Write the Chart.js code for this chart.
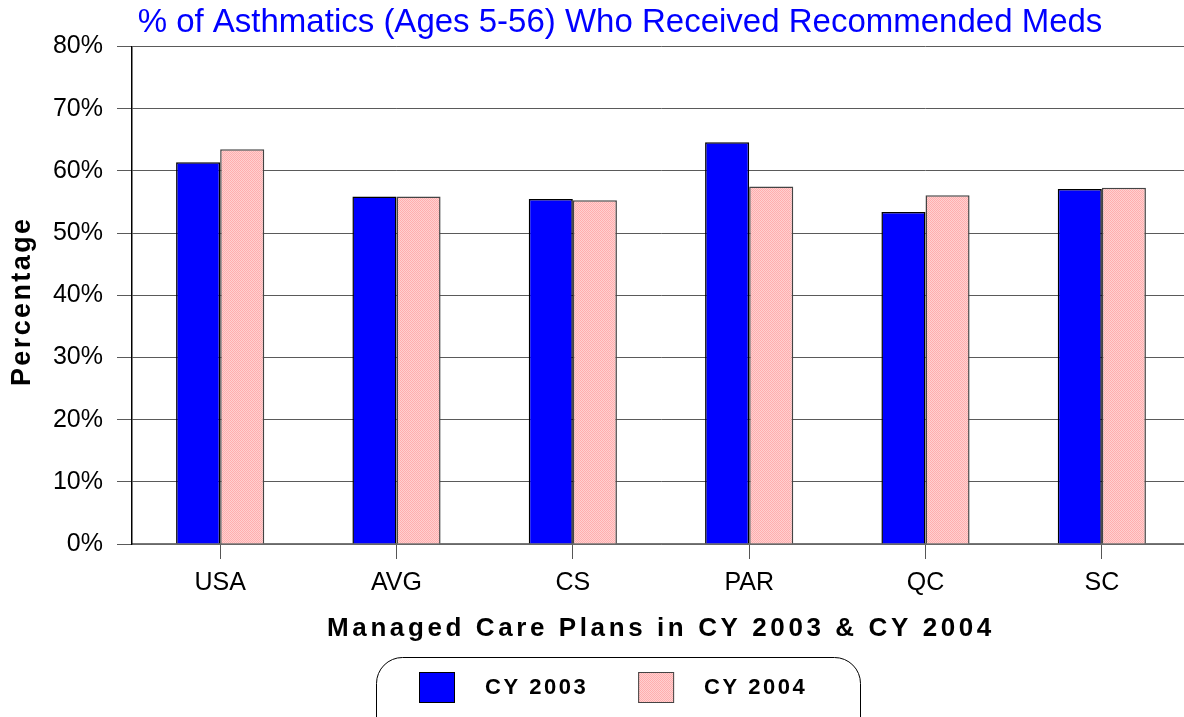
<!DOCTYPE html>
<html>
<head>
<meta charset="utf-8">
<script src="https://cdn.jsdelivr.net/npm/chart.js@4/dist/chart.umd.min.js"></script>
<style>
html, body { margin: 0; padding: 0; background: #fff; overflow: hidden; }
#wrap { width: 1240px; height: 717px; }
</style>
</head>
<body>
<div id="wrap"><canvas id="myChart" width="1240" height="717"></canvas></div>
<script>
const FONT = "'Liberation Sans', Arial, sans-serif";

const categories = ['USA', 'AVG', 'CS', 'PAR', 'QC', 'SC'];
const cy2003 = [61.4, 55.9, 55.5, 64.6, 53.4, 57.1];
const cy2004 = [63.5, 55.9, 55.3, 57.5, 56.1, 57.3];
const yTickValues = [0, 10, 20, 30, 40, 50, 60, 70, 80];
const seriesLabels = ['CY 2003', 'CY 2004'];
const titleText = '% of Asthmatics (Ages 5-56) Who Received Recommended Meds';
const xTitle = 'Managed Care Plans in CY 2003 & CY 2004';
const yTitle = 'Percentage';

// dithered pink fill like the original
function pinkPattern() {
    const c = document.createElement('canvas');
    c.width = 2; c.height = 2;
    const p = c.getContext('2d');
    p.fillStyle = '#ffd0d0';
    p.fillRect(0, 0, 2, 2);
    p.fillStyle = '#ffaeae';
    p.fillRect(0, 0, 1, 1);
    p.fillRect(1, 1, 1, 1);
    return p.createPattern(c, 'repeat');
}

// letter spacing for the axis titles, and centre the chart title on the canvas
const spacingPlugin = {
    id: 'spacing',
    afterLayout(chart) {
        [['x', '3.6px', 0], ['y', '2.4px', 6]].forEach(([id, sp, dy]) => {
            const s = chart.scales[id];
            if (s._spaced) return;
            const orig = s.drawTitle;
            s.drawTitle = function () {
                this.ctx.save();
                this.ctx.letterSpacing = sp;
                this.ctx.translate(0, dy);
                orig.apply(this, arguments);
                this.ctx.restore();
            };
            s._spaced = true;
        });
        const tb = chart.titleBlock;
        if (tb && !tb._shifted) {
            const origDraw = tb.draw;
            tb.draw = function () {
                const dx = chart.width / 2 - (this.left + this.right) / 2;
                this.ctx.save();
                this.ctx.translate(dx, 0);
                origDraw.apply(this, arguments);
                this.ctx.restore();
            };
            tb._shifted = true;
        }
    }
};

// rounded legend box under the axis title
const legendBoxPlugin = {
    id: 'legendBox',
    afterDraw(chart) {
        const ctx = chart.ctx;
        const cx = chart.width / 2;
        const top = chart.scales.x.bottom + 13;
        ctx.save();
        ctx.strokeStyle = '#000';
        ctx.lineWidth = 1;
        ctx.beginPath();
        ctx.roundRect(cx - 243.5, top + 0.5, 484, 90, 26);
        ctx.stroke();

        ctx.font = 'bold 22px ' + FONT;
        ctx.letterSpacing = '2.5px';
        ctx.textBaseline = 'middle';
        const items = chart.data.datasets.map(ds => ({
            label: ds.label,
            fill: ds.backgroundColor,
            stroke: ds.borderColor,
            w: ctx.measureText(ds.label).width
        }));
        const total = items.reduce((a, it) => a + 36 + 30 + it.w, 0) + 50 * (items.length - 1);
        let x = Math.round(cx - total / 2 - 7);
        const midY = top + 30.5;
        items.forEach(it => {
            ctx.fillStyle = it.fill;
            ctx.fillRect(x, midY - 15.5, 36, 31);
            ctx.strokeStyle = it.stroke;
            ctx.lineWidth = 1;
            ctx.strokeRect(x + 0.5, midY - 15, 35, 30);
            ctx.fillStyle = '#000';
            ctx.fillText(it.label, x + 36 + 30, midY);
            x += 36 + 30 + it.w + 50;
        });
        ctx.restore();
    }
};

const ctx = document.getElementById('myChart').getContext('2d');
const myChart = new Chart(ctx, {
    type: 'bar',
    data: {
        labels: categories,
        datasets: [{
            label: seriesLabels[0],
            data: cy2003,
            backgroundColor: '#0000ff',
            borderColor: '#000000',
            borderWidth: 1.5
        }, {
            label: seriesLabels[1],
            data: cy2004,
            backgroundColor: pinkPattern(),
            borderColor: '#444444',
            borderWidth: 1.5
        }]
    },
    options: {
        responsive: false,
        animation: false,
        devicePixelRatio: 1,
        categoryPercentage: 0.5,
        barPercentage: 1,
        layout: { padding: { left: 0, right: 50, top: 0, bottom: 73 } },
        plugins: {
            legend: { display: false },
            tooltip: { enabled: false },
            title: {
                display: true,
                text: titleText,
                color: '#0000ff',
                font: { family: FONT, size: 33, weight: 'normal' },
                padding: { top: 3, bottom: 4 }
            }
        },
        scales: {
            x: {
                grid: { drawOnChartArea: false, drawTicks: true, tickLength: 15, offset: false, color: '#555' },
                border: { color: '#777', width: 1.5 },
                ticks: { color: '#000', font: { family: FONT, size: 25 }, padding: 9 },
                title: {
                    display: true,
                    text: xTitle,
                    color: '#000',
                    font: { family: FONT, size: 26, weight: 'bold' },
                    padding: { top: 0, bottom: 0 }
                },
                afterFit(s) { s.height = 100; }
            },
            y: {
                min: 0,
                max: 80,
                afterBuildTicks(s) { s.ticks = yTickValues.map(v => ({ value: v })); },
                ticks: { callback: v => v + '%', color: '#000', font: { family: FONT, size: 25 }, padding: 14 },
                grid: { color: '#5a5a5a', tickLength: 15, lineWidth: 1 },
                border: { color: '#000', width: 1.5 },
                title: {
                    display: true,
                    text: yTitle,
                    color: '#000',
                    font: { family: FONT, size: 27, weight: 'bold' },
                    padding: { top: 6, bottom: 0 }
                },
                afterFit(s) { s.width = 132; }
            }
        }
    },
    plugins: [spacingPlugin, legendBoxPlugin]
});
</script>
</body>
</html>
